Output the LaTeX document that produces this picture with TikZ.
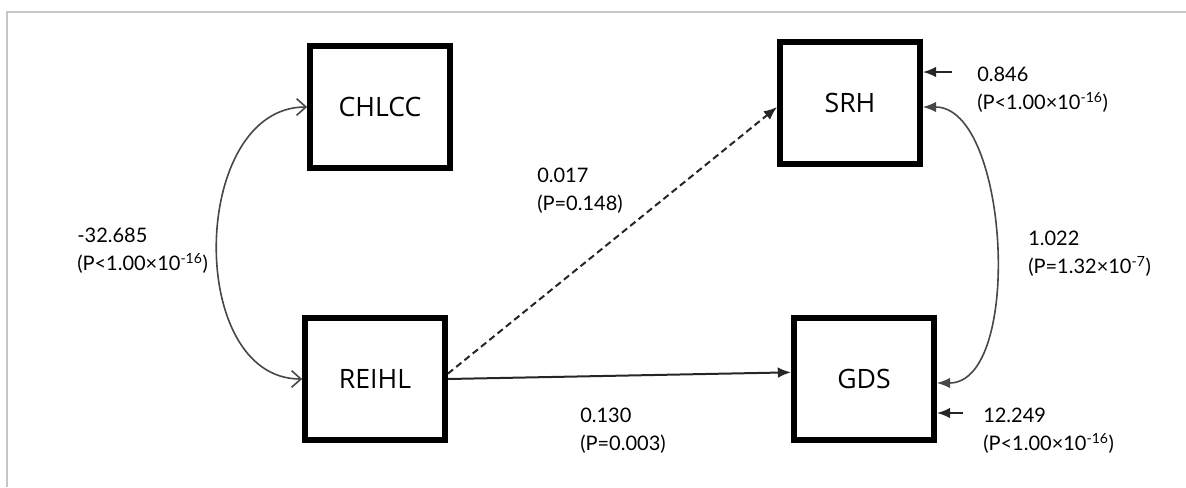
\documentclass[tikz,border=0pt]{standalone}
\usepackage{fontspec}
\setmainfont{Lato}
\newfontfamily\boxfont{Open Sans}
\usetikzlibrary{arrows.meta}

\tikzset{
  varbox/.style={draw=black, line width=4.3pt, minimum width=105pt, minimum height=91.5pt,
    inner sep=0pt, font=\boxfont\fontsize{20}{22}\selectfont},
  estlabel/.style={anchor=north west, align=left, inner sep=0pt, font=\fontsize{15}{21}\selectfont},
  covar/.style={draw=black!72, line width=1.2pt},
  regline/.style={draw=black!85, line width=1.5pt},
  fillhead/.style={-{Latex[length=10pt,width=8pt]}},
  barbhead/.style={{Straight Barb[length=7pt,width=12.5pt,line width=1.2pt]}-{Straight Barb[length=7pt,width=12.5pt,line width=1.2pt]}}
}

\begin{document}
\begin{tikzpicture}[x=0.75pt,y=-0.75pt]
  \useasboundingbox (0,0) rectangle (1186,487);
  \draw [black!22, line width=1.1pt] (7,487) -- (7,12) -- (1186,12);

  % variables
  \node [varbox] (chlcc) at (380,107) {CHLCC};
  \node [varbox] (srh) at (850,103) {SRH};
  \node [varbox] (reihl) at (375,379) {REIHL};
  \node [varbox] (gds) at (864,379) {GDS};

  % paths
  \draw [regline, dash pattern=on 5pt off 3pt, fillhead] ([yshift=4pt]reihl.east) -- ([yshift=-3pt]srh.west);
  \draw [regline, fillhead] (reihl.east) -- ([yshift=5pt]gds.west);

  % covariances
  \draw [covar, barbhead] (chlcc.west) to[out=180, in=180, looseness=1.1] (reihl.west);
  \draw [covar, {Latex[length=10pt,width=8pt]}-{Latex[length=10pt,width=8pt]}]
    ([yshift=-3pt]srh.east) to[out=0, in=0, looseness=0.8] ([yshift=-3pt]gds.east);

  % residuals
  \coordinate (srherr) at (952,72);
  \coordinate (gdserr) at (963,413);
  \draw [regline, fillhead] (srherr) -- (srherr -| srh.east);
  \draw [regline, fillhead] (gdserr) -- (gdserr -| gds.east);

  % estimates
  \node [estlabel] (lbcov) at (77,228) {-32.685\\(P<1.00×10\textsuperscript{-16})};
  \node [estlabel] (lbdash) at (537,168) {0.017\\(P=0.148)};
  \node [estlabel] (lbsolid) at (580,408) {0.130\\(P=0.003)};
  \node [estlabel] (lbres) at (1028,231) {1.022\\(P=1.32×10\textsuperscript{-7})};
  \node [estlabel] (lbsrh) at (977,67) {0.846\\(P<1.00×10\textsuperscript{-16})};
  \node [estlabel] (lbgds) at (983,408) {12.249\\(P<1.00×10\textsuperscript{-16})};
\end{tikzpicture}
\end{document}
